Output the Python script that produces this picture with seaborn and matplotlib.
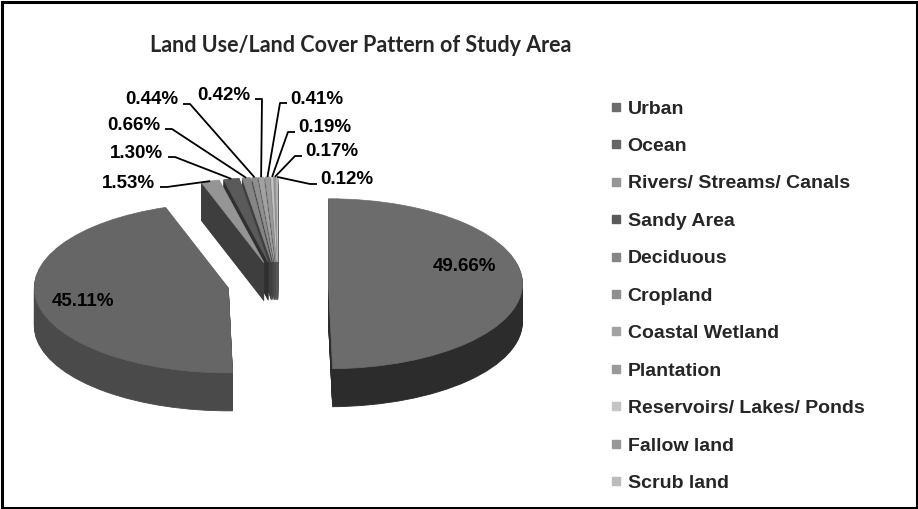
import numpy as np
import matplotlib
matplotlib.use("Agg")
import matplotlib.pyplot as plt
from matplotlib.lines import Line2D
from matplotlib.patches import Rectangle
import seaborn as sns

# ---------------- data ----------------
categories = ["Urban", "Ocean", "Rivers/ Streams/ Canals", "Sandy Area", "Deciduous",
              "Cropland", "Coastal Wetland", "Plantation", "Reservoirs/ Lakes/ Ponds",
              "Fallow land", "Scrub land"]
shares = [49.66, 45.11, 1.53, 1.30, 0.66, 0.44, 0.42, 0.41, 0.19, 0.17, 0.12]
title = "Land Use/Land Cover Pattern of Study Area"

# ---------------- style ----------------
top_colors = ["#6c6c6c", "#666666", "#959595", "#5a5a5a", "#858585", "#8f8f8f",
              "#a2a2a2", "#9a9a9a", "#c4c4c4", "#979797", "#bcbcbc"]
side_colors = ["#2c2c2c", "#4a4a4a", "#3e3e3e", "#303030", "#3f3f3f", "#454545",
               "#505050", "#4a4a4a", "#606060", "#484848", "#5a5a5a"]

W, H = 918, 509
sns.set_theme(style="white")
plt.rcParams['font.family'] = ['Liberation Sans', 'DejaVu Sans']

fig = plt.figure(figsize=(W / 100, H / 100), dpi=100)
fig.patch.set_facecolor("white")
ax = fig.add_axes([0, 0, 1, 1])

R = 194.0      # horizontal radius (px)
B = 85.0       # vertical radius (px)
Q = B / R
DEPTH = 38     # thickness (px)
explode = [0.26 * R] * len(shares)   # pie explode offset is in data units


def P(xp, yp):
    return xp, (H - yp) / Q


cx, cy = P(278, 284)

# extruded body: stack of pies
for d in range(DEPTH, 0, -1):
    ws, _ = ax.pie(shares, explode=explode, colors=side_colors, startangle=90,
                   counterclock=False, radius=R, center=(cx, cy - d / Q),
                   wedgeprops=dict(linewidth=0.6))
    for w in ws:
        w.set_edgecolor(w.get_facecolor())

wedges, _ = ax.pie(shares, explode=explode, colors=top_colors, startangle=90,
                   counterclock=False, radius=R, center=(cx, cy),
                   wedgeprops=dict(linewidth=0.5))
for w in wedges:
    w.set_edgecolor(w.get_facecolor())

label_font = dict(fontsize=13.5, fontweight="bold", color="black")

# big slice labels inside
big_dist = {0: 0.70, 1: 0.76}
big_lift = {0: 17, 1: -2}
for i, dist in big_dist.items():
    w = wedges[i]
    a = np.deg2rad((w.theta1 + w.theta2) / 2)
    x = w.center[0] + dist * R * np.cos(a)
    y = w.center[1] + dist * R * np.sin(a)
    ax.text(x, y + big_lift[i] / Q, f"{shares[i]:.2f}%", ha="center", va="center", **label_font)

# small slice labels with leader lines (layout positions in px)
small_layout = {
    2: ("right", 155, 183),
    3: ("right", 163, 153),
    4: ("right", 160, 125),
    5: ("right", 178, 100),
    6: ("right", 250, 95),
    7: ("left", 290, 99),
    8: ("left", 298, 128),
    9: ("left", 305, 152),
    10: ("left", 320, 180),
}
for i, (side, tx, ty) in small_layout.items():
    w = wedges[i]
    a = np.deg2rad((w.theta1 + w.theta2) / 2)
    gx = w.center[0] + R * np.cos(a)
    gy = w.center[1] + R * np.sin(a)
    ha = "right" if side == "right" else "left"
    ax.text(*P(tx, ty), f"{shares[i]:.2f}%", ha=ha, va="center", **label_font)
    if side == "right":
        p0 = P(tx + 5, ty + 4)
        p1 = P(tx + 12, ty + 4)
    else:
        p0 = P(tx - 3, ty + 4)
        p1 = P(tx - 10, ty + 4)
    ax.plot([p0[0], p1[0], gx], [p0[1], p1[1], gy], color="black", lw=1.3,
            solid_capstyle="butt")

ax.set_aspect("auto")
ax.set_xlim(0, W)
ax.set_ylim(0, H / Q)
ax.set_position([0, 0, 1, 1])
ax.axis("off")

# title
fig.text(361 / W, 1 - 45 / H, title, ha="center", va="center",
         fontsize=15.5, fontweight="bold", family=["Lato", "DejaVu Sans"])

# legend
handles = [Line2D([], [], marker="s", linestyle="", markersize=6,
                  markerfacecolor=c, markeredgecolor=c) for c in top_colors]
fig.legend(handles, categories, loc="upper left",
           bbox_to_anchor=(611 / W, 1 - 100 / H), frameon=False,
           prop=dict(size=14, weight="bold"), handlelength=0.5,
           handletextpad=0.35, labelspacing=1.02, borderpad=0,
           borderaxespad=0)

# outer border
fig.patches.append(Rectangle((1.5 / W, 1.5 / H), 1 - 3 / W, 1 - 3 / H,
                             transform=fig.transFigure, fill=False,
                             edgecolor="black", linewidth=2.2))

fig.savefig("out.png", dpi=100)
